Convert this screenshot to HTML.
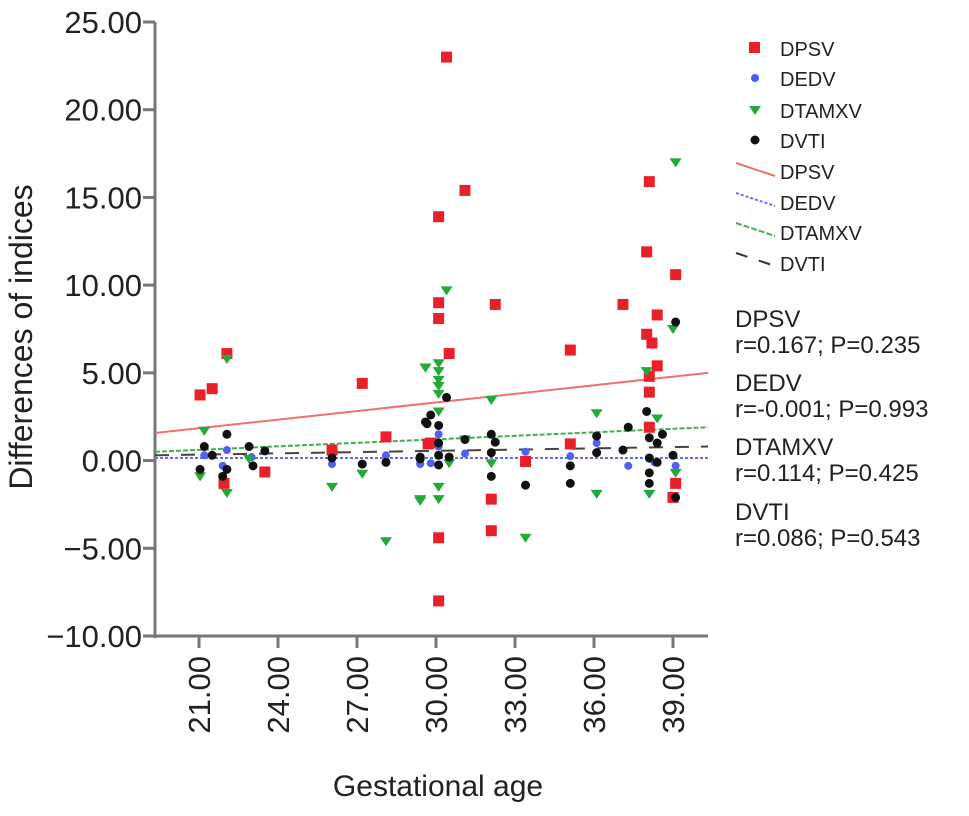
<!DOCTYPE html>
<html><head><meta charset="utf-8"><style>
html,body{margin:0;padding:0;background:#fff;}
svg{display:block;font-family:"Liberation Sans",Arial,sans-serif;}
</style></head><body>
<svg id="chart" width="969" height="816" viewBox="0 0 969 816">
<g id="axes"></g>
<g id="lines"></g>
<g id="points"></g>
<text x="32" y="337" font-size="32" text-anchor="middle" transform="rotate(-90 32 337)" fill="#222">Differences of indices</text>
<text x="438" y="796" font-size="30" text-anchor="middle" fill="#222">Gestational age</text>
<g font-size="20" fill="#222">
  <rect x="749" y="42" width="11" height="11" fill="#e8202a"/>
  <text x="780" y="56">DPSV</text>
  <circle cx="755" cy="78" r="4" fill="#4a5cf0"/>
  <text x="780" y="86">DEDV</text>
  <path d="M749,106 L761,106 L755,115 Z" fill="#23a83a"/>
  <text x="780" y="118">DTAMXV</text>
  <circle cx="755" cy="140" r="4.5" fill="#111"/>
  <text x="780" y="148">DVTI</text>
  <line x1="736" y1="163" x2="775" y2="176" stroke="#f07070" stroke-width="2"/>
  <text x="780" y="179">DPSV</text>
  <line x1="736" y1="193" x2="775" y2="206" stroke="#7070f0" stroke-width="2" stroke-dasharray="3,2"/>
  <text x="780" y="210">DEDV</text>
  <line x1="736" y1="223" x2="775" y2="236" stroke="#40b050" stroke-width="2" stroke-dasharray="6,2"/>
  <text x="780" y="240">DTAMXV</text>
  <line x1="736" y1="253" x2="775" y2="266" stroke="#333" stroke-width="2" stroke-dasharray="12,12"/>
  <text x="780" y="271">DVTI</text>
</g>
<g font-size="24" fill="#222">
  <text x="735" y="327">DPSV</text><text x="735" y="353">r=0.167; P=0.235</text>
  <text x="735" y="391">DEDV</text><text x="735" y="417">r=-0.001; P=0.993</text>
  <text x="735" y="455">DTAMXV</text><text x="735" y="481">r=0.114; P=0.425</text>
  <text x="735" y="520">DVTI</text><text x="735" y="546">r=0.086; P=0.543</text>
</g>
</svg>
<script>
const yTicks = [25, 20, 15, 10, 5, 0, -5, -10];
const xTicks = [21, 24, 27, 30, 33, 36, 39];
const dpsvX = [21.04,21.5,22.06,21.95,23.5,27.2,28.1,26.05,29.7,30.4,31.1,30.1,30.1,30.1,30.5,32.25,29.8,30.1,30.1,32.1,32.1,33.4,38.1,38.0,39.1,37.1,38.4,35.1,38.0,38.2,38.4,38.1,38.1,38.1,35.1,39.1,39.0];
const dpsvY = [3.74,4.1,6.1,-1.3,-0.65,4.4,1.35,0.6,0.95,23.0,15.4,13.9,9.0,8.1,6.1,8.9,1.0,-4.4,-8.0,-2.2,-4.0,-0.05,15.9,11.9,10.6,8.9,8.3,6.3,7.2,6.7,5.4,4.8,3.9,1.9,0.95,-1.3,-2.1];
const dedvX = [22.06,26.05,21.9,28.1,29.4,30.1,31.1,33.4,29.4,29.8,30.1,35.1,37.3,39.1,36.1,38.1,38.3,21.2,23.0];
const dedvY = [0.6,-0.2,-0.3,0.3,-0.2,1.5,0.4,0.5,-0.15,-0.15,0.8,0.25,-0.3,-0.3,1.0,0.1,-0.1,0.3,0.2];
const dtamxvX = [22.06,21.2,21.04,22.06,22.9,26.05,27.2,28.1,29.4,29.6,30.4,29.6,30.1,30.1,30.1,30.1,30.1,30.1,32.1,31.1,32.1,30.1,30.1,29.4,33.4,30.5,39.1,39.0,38.0,36.1,38.4,36.1,38.1,39.1];
const dtamxvY = [5.8,1.7,-0.9,-1.85,0.1,-1.5,-0.75,-4.6,-2.3,5.3,9.7,5.3,5.55,5.1,4.6,4.25,3.8,2.8,3.45,1.2,-0.15,-1.5,-2.2,-2.2,-4.4,-0.15,17.0,7.5,5.1,2.7,2.4,-1.9,-1.9,-0.7];
const dvtiX = [22.06,21.2,21.5,21.04,22.06,21.9,22.9,23.05,23.5,26.05,27.2,28.1,29.4,29.66,30.4,29.8,29.6,30.1,30.1,31.1,32.1,32.25,30.1,32.1,29.4,30.5,30.1,32.1,33.4,39.1,38.0,37.3,36.1,38.6,38.1,38.4,37.1,36.1,38.1,39.0,38.4,35.1,38.1,35.1,38.1,39.1];
const dvtiY = [1.5,0.8,0.3,-0.5,-0.5,-0.9,0.8,-0.3,0.55,0.15,-0.2,-0.1,0.1,2.1,3.6,2.6,2.2,2.0,1.0,1.2,1.5,1.05,0.3,0.45,0.2,0.2,-0.25,-0.9,-1.4,7.9,2.8,1.9,1.4,1.5,1.3,1.0,0.6,0.45,0.15,0.3,-0.1,-0.3,-0.7,-1.3,-1.3,-2.1];
const lineNames = ["dpsv","dedv","dtamxv","dvti"];
const lineStart = [1.57, 0.15, 0.5, 0.3];
const lineEnd = [5.0, 0.15, 1.9, 0.8];

const NS = "http://www.w3.org/2000/svg";
const X0 = 155, X1 = 708, Y0 = 22, Y1 = 636;
function sx(v){ return 199 + (v - 21) * (474/18); }
function sy(v){ return Y1 - (v + 10) * (614/35); }
function mk(tag, attrs, parent){ const e = document.createElementNS(NS, tag); for (const k in attrs) e.setAttribute(k, attrs[k]); parent.appendChild(e); return e; }

const axes = document.getElementById("axes");
let el = mk("line", {x1:X0, y1:Y0, x2:X0, y2:Y1+2, stroke:"#777", "stroke-width":3}, axes);


el = mk("line", {x1:X0-2, y1:Y1, x2:X1, y2:Y1, stroke:"#777", "stroke-width":3}, axes);


yTicks.forEach(t => {
  const y = sy(t);
  let tk = mk("line", {x1:X0-12, y1:y, x2:X0, y2:y, stroke:"#777", "stroke-width":3}, axes);
  
  
  let lb = mk("text", {x:142, y:y+11, "font-size":31, "text-anchor":"end", fill:"#222"}, axes);
  lb.textContent = (t < 0 ? "\u2212" + Math.abs(t).toFixed(2) : t.toFixed(2));
  
  
});
xTicks.forEach(t => {
  const x = sx(t);
  let tk = mk("line", {x1:x, y1:Y1, x2:x, y2:Y1+12, stroke:"#777", "stroke-width":3}, axes);
  
  
  let lb = mk("text", {x:0, y:0, "font-size":31, "text-anchor":"end", fill:"#222", transform:"translate("+(x+11)+",656) rotate(-90)"}, axes);
  lb.textContent = t.toFixed(2);
  
  
});

const lines = document.getElementById("lines");
const lineStyles = [["#f07070","none"],["#6a6af5","3,2"],["#40b050","5,2"],["#444","14,12"]];
lineNames.forEach((n,i) => {
  let l = mk("line", {x1:X0, y1:sy(lineStart[i]), x2:X1, y2:sy(lineEnd[i]), stroke:lineStyles[i][0], "stroke-width":2, "stroke-dasharray":lineStyles[i][1]}, lines);
  
  
});

const pts = document.getElementById("points");
dpsvX.forEach((v,i) => {
  let p = mk("rect", {x:sx(v)-5.5, y:sy(dpsvY[i])-5.5, width:11, height:11, fill:"#e8202a"}, pts);
  
  
});
dedvX.forEach((v,i) => {
  let p = mk("circle", {cx:sx(v), cy:sy(dedvY[i]), r:4, fill:"#5060f0"}, pts);
  
  
});
dtamxvX.forEach((v,i) => {
  const x = sx(v), y = sy(dtamxvY[i]);
  let p = mk("path", {d:"M"+(x-6)+","+(y-4)+" L"+(x+6)+","+(y-4)+" L"+x+","+(y+5)+" Z", fill:"#23a83a"}, pts);
  
  
});
dvtiX.forEach((v,i) => {
  let p = mk("circle", {cx:sx(v), cy:sy(dvtiY[i]), r:4.5, fill:"#111"}, pts);
  
  
});
</script>
</body></html>
